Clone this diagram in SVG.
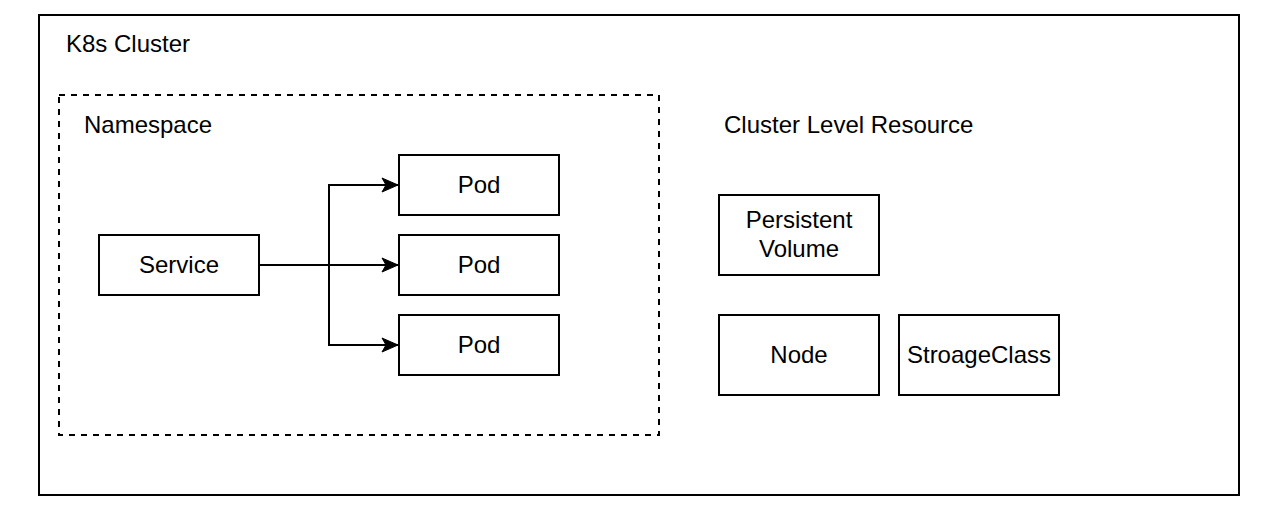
<svg xmlns="http://www.w3.org/2000/svg" width="1278" height="520" viewBox="0 0 1278 520">
<defs>
<style>
.box{fill:#fff;stroke:#000;stroke-width:2}
.t{font-family:"Liberation Sans",Arial,sans-serif;font-size:24px;fill:#000}
.c{text-anchor:middle}
.edge{fill:none;stroke:#000;stroke-width:2}
</style>
<marker id="arr" markerUnits="userSpaceOnUse" markerWidth="20" markerHeight="20" viewBox="-18 -10 20 20" refX="0" refY="0" orient="auto">
<path d="M0,0 L-16,-7 L-12,0 L-16,7 Z" fill="#000" stroke="#000" stroke-width="1"/>
</marker>
</defs>
<rect width="1278" height="520" fill="#fff"/>
<g id="cluster">
<rect class="box" x="39" y="15" width="1200" height="480"/>
<text class="t" x="66" y="52">K8s Cluster</text>
</g>
<g id="namespace">
<rect x="59" y="95" width="600" height="340" fill="none" stroke="#000" stroke-width="2" stroke-dasharray="6 6"/>
<text class="t" x="84" y="133">Namespace</text>
</g>
<g id="cluster-level">
<text class="t" x="724" y="133">Cluster Level Resource</text>
</g>
<g id="edges">
<path class="edge" d="M259,265 H329 V185 H398" marker-end="url(#arr)"/>
<path class="edge" d="M259,265 H398" marker-end="url(#arr)"/>
<path class="edge" d="M259,265 H329 V345 H398" marker-end="url(#arr)"/>
</g>
<g id="service">
<rect class="box" x="99" y="235" width="160" height="60"/>
<text class="t c" x="179" y="273">Service</text>
</g>
<g id="pod1">
<rect class="box" x="399" y="155" width="160" height="60"/>
<text class="t c" x="479" y="193">Pod</text>
</g>
<g id="pod2">
<rect class="box" x="399" y="235" width="160" height="60"/>
<text class="t c" x="479" y="273">Pod</text>
</g>
<g id="pod3">
<rect class="box" x="399" y="315" width="160" height="60"/>
<text class="t c" x="479" y="353">Pod</text>
</g>
<g id="pv">
<rect class="box" x="719" y="195" width="160" height="80"/>
<text class="t c" x="799" y="228">Persistent</text>
<text class="t c" x="799" y="257">Volume</text>
</g>
<g id="node">
<rect class="box" x="719" y="315" width="160" height="80"/>
<text class="t c" x="799" y="363">Node</text>
</g>
<g id="storageclass">
<rect class="box" x="899" y="315" width="160" height="80"/>
<text class="t c" x="979" y="363">StroageClass</text>
</g>
</svg>
